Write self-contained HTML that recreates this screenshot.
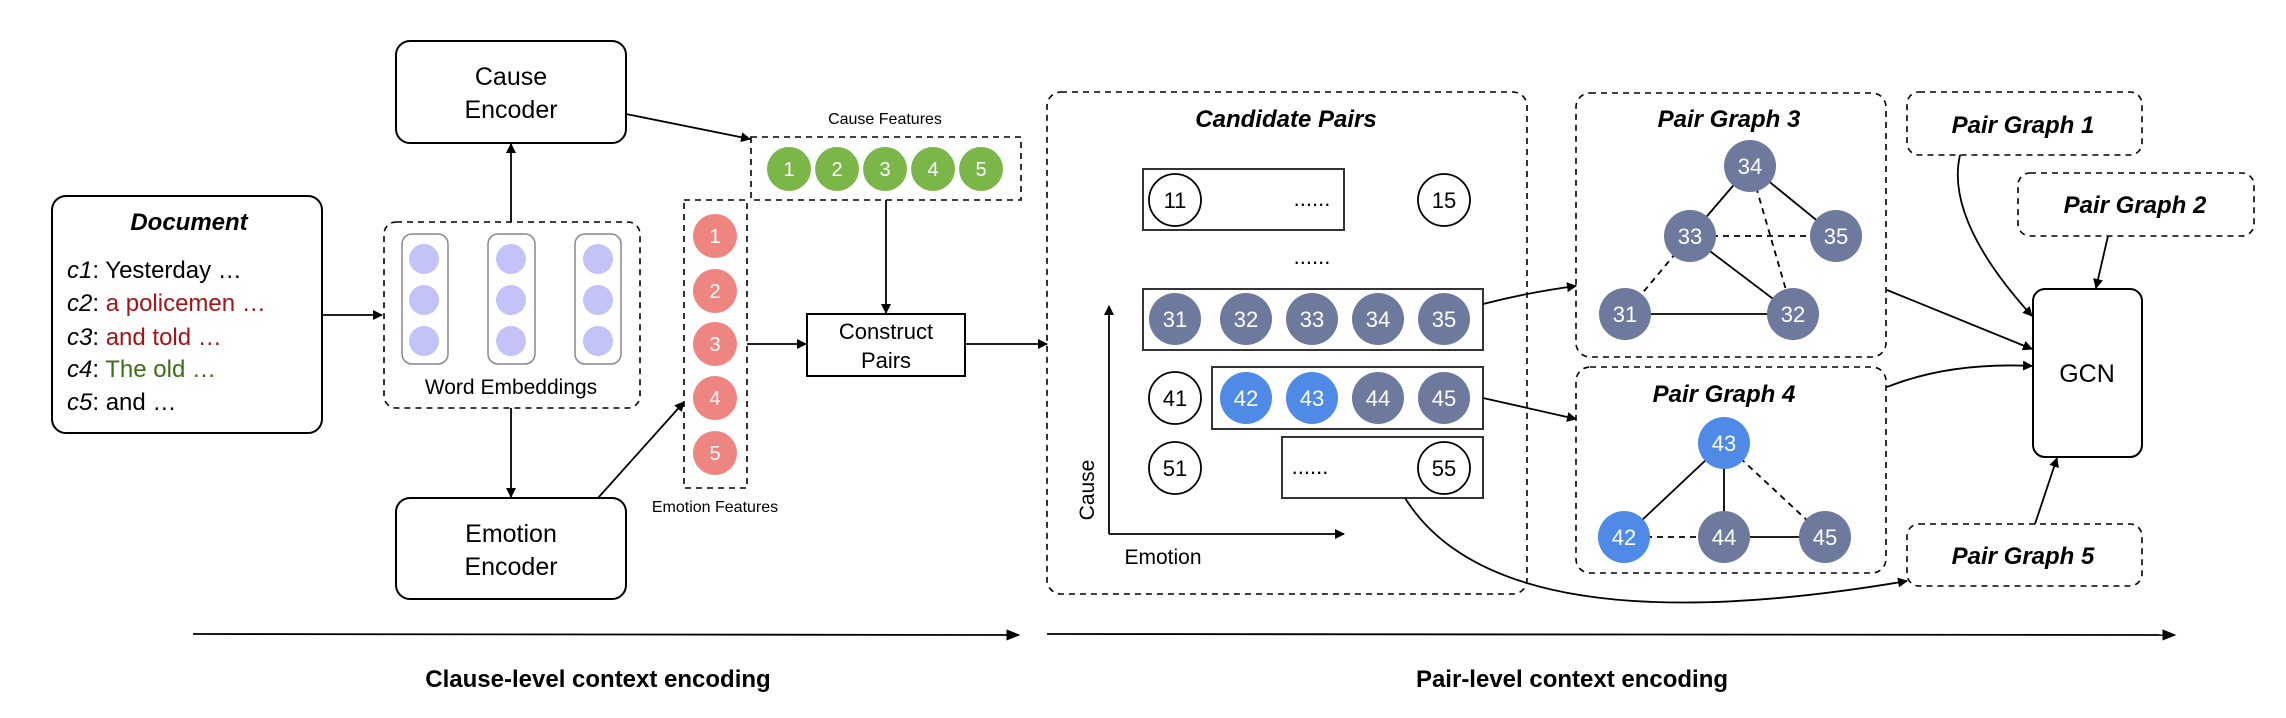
<!DOCTYPE html>
<html><head><meta charset="utf-8"><style>
html,body{margin:0;padding:0;background:#fff}
svg{display:block}
text{font-family:"Liberation Sans",sans-serif}
</style></head><body>
<svg width="2286" height="718" viewBox="0 0 2286 718" xmlns="http://www.w3.org/2000/svg">
<defs>
<marker id="a" viewBox="0 0 10 10" refX="9" refY="5" markerWidth="10" markerHeight="10" markerUnits="userSpaceOnUse" orient="auto"><path d="M0,0 L10,5 L0,10 z" fill="#000"/></marker>
<marker id="b" viewBox="0 0 10 10" refX="9" refY="5" markerWidth="14" markerHeight="14" markerUnits="userSpaceOnUse" orient="auto"><path d="M0,1 L10,5 L0,9 z" fill="#000"/></marker>
</defs>
<g fill="none" stroke="#000" stroke-width="2">
<!-- boxes -->
<rect x="52" y="196" width="270" height="237" rx="14"/>
<rect x="396" y="41" width="230" height="102" rx="14"/>
<rect x="396" y="498" width="230" height="101" rx="14"/>
<rect x="384" y="222" width="256" height="186" rx="12" stroke-dasharray="6,5" stroke-width="1.6"/>
<rect x="684" y="200" width="63" height="288" stroke-dasharray="6,5" stroke-width="1.6"/>
<rect x="751" y="137" width="270" height="63" stroke-dasharray="6,5" stroke-width="1.6"/>
<rect x="807" y="314" width="158" height="62"/>
<rect x="1047" y="92" width="480" height="502" rx="14" stroke-dasharray="6,5" stroke-width="1.6"/>
<rect x="1576" y="93" width="310" height="264" rx="14" stroke-dasharray="6,5" stroke-width="1.6"/>
<rect x="1576" y="367" width="310" height="206" rx="14" stroke-dasharray="6,5" stroke-width="1.6"/>
<rect x="1907" y="92" width="235" height="63" rx="12" stroke-dasharray="6,5" stroke-width="1.6"/>
<rect x="2018" y="173" width="236" height="63" rx="12" stroke-dasharray="6,5" stroke-width="1.6"/>
<rect x="1907" y="524" width="235" height="62" rx="12" stroke-dasharray="6,5" stroke-width="1.6"/>
<rect x="2033" y="289" width="109" height="168" rx="12"/>
<rect x="1143" y="169" width="201" height="61" stroke="#333"/>
<rect x="1143" y="289" width="340" height="61" stroke="#333"/>
<rect x="1212" y="367" width="271" height="62" stroke="#333"/>
<rect x="1282" y="437" width="201" height="61" stroke="#333"/>
<!-- word embedding columns -->
<rect x="402" y="234" width="46" height="130" rx="10" stroke="#888" stroke-width="1.5"/>
<rect x="488" y="234" width="47" height="130" rx="10" stroke="#888" stroke-width="1.5"/>
<rect x="575" y="234" width="46" height="130" rx="10" stroke="#888" stroke-width="1.5"/>
</g>
<g fill="#c3c3f7">
<circle cx="424" cy="259" r="15"/><circle cx="424" cy="300" r="15"/><circle cx="424" cy="341" r="15"/>
<circle cx="511" cy="259" r="15"/><circle cx="511" cy="300" r="15"/><circle cx="511" cy="341" r="15"/>
<circle cx="598" cy="259" r="15"/><circle cx="598" cy="300" r="15"/><circle cx="598" cy="341" r="15"/>
</g>
<!-- arrows -->
<g fill="none" stroke="#000" stroke-width="1.8">
<line x1="323" y1="315" x2="382" y2="315" marker-end="url(#a)"/>
<line x1="511" y1="222" x2="511" y2="144" marker-end="url(#a)"/>
<line x1="511" y1="408" x2="511" y2="497" marker-end="url(#a)"/>
<line x1="626" y1="114" x2="750" y2="139" marker-end="url(#a)"/>
<path d="M598,498 Q650,440 684,402" marker-end="url(#a)"/>
<line x1="886" y1="200" x2="886" y2="313" marker-end="url(#a)"/>
<line x1="747" y1="344" x2="806" y2="344" marker-end="url(#a)"/>
<line x1="965" y1="344" x2="1047" y2="344" marker-end="url(#a)"/>
<line x1="193" y1="634" x2="1019" y2="635" marker-end="url(#b)"/>
<line x1="1047" y1="634" x2="2175" y2="635" marker-end="url(#b)"/>
<path d="M1109,534 L1109,306" marker-end="url(#a)"/>
<path d="M1109,534 L1344,534" marker-end="url(#a)"/>
<path d="M1483,304 Q1530,292 1576,286" marker-end="url(#a)"/>
<path d="M1483,398 L1576,419" marker-end="url(#a)"/>
<path d="M1887,290 L2032,349" marker-end="url(#a)"/>
<path d="M1887,387 Q1950,362 2032,366" marker-end="url(#a)"/>
<path d="M1960,155 Q1945,220 2032,316" marker-end="url(#a)"/>
<path d="M2108,236 L2096,288" marker-end="url(#a)"/>
<path d="M2035,524 L2057,458" marker-end="url(#a)"/>
<path d="M1405,498 Q1500,650 1907,581" marker-end="url(#a)"/>
</g>
<!-- graph edges -->
<g stroke="#000" stroke-width="1.8">
<line x1="1750" y1="166" x2="1690" y2="236"/>
<line x1="1750" y1="166" x2="1836" y2="236"/>
<line x1="1750" y1="166" x2="1793" y2="314" stroke-dasharray="6,5"/>
<line x1="1690" y1="236" x2="1836" y2="236" stroke-dasharray="6,5"/>
<line x1="1690" y1="236" x2="1793" y2="314"/>
<line x1="1690" y1="236" x2="1625" y2="314" stroke-dasharray="6,5"/>
<line x1="1625" y1="314" x2="1793" y2="314"/>
<line x1="1724" y1="443" x2="1624" y2="537"/>
<line x1="1724" y1="443" x2="1724" y2="537"/>
<line x1="1724" y1="443" x2="1825" y2="537" stroke-dasharray="6,5"/>
<line x1="1624" y1="537" x2="1724" y2="537" stroke-dasharray="6,5"/>
<line x1="1724" y1="537" x2="1825" y2="537"/>
</g>
<!-- feature circles -->
<g fill="#7ab648"><circle cx="789" cy="169" r="22"/><circle cx="837" cy="169" r="22"/><circle cx="885" cy="169" r="22"/><circle cx="933" cy="169" r="22"/><circle cx="981" cy="169" r="22"/></g>
<g fill="#ee8580"><circle cx="715" cy="236" r="22"/><circle cx="715" cy="291" r="22"/><circle cx="715" cy="344" r="22"/><circle cx="715" cy="398" r="22"/><circle cx="715" cy="453" r="22"/></g>
<g font-size="20" fill="#fff" text-anchor="middle">
<text x="789" y="176">1</text><text x="837" y="176">2</text><text x="885" y="176">3</text><text x="933" y="176">4</text><text x="981" y="176">5</text>
<text x="715" y="243">1</text><text x="715" y="298">2</text><text x="715" y="351">3</text><text x="715" y="405">4</text><text x="715" y="460">5</text>
</g>
<!-- pair circles -->
<g fill="#fff" stroke="#000" stroke-width="1.8">
<circle cx="1175" cy="200" r="26"/><circle cx="1444" cy="200" r="26"/>
<circle cx="1175" cy="398" r="26"/><circle cx="1175" cy="468" r="26"/><circle cx="1444" cy="468" r="26"/>
</g>
<g fill="#6d7a9e">
<circle cx="1175" cy="319" r="26"/><circle cx="1246" cy="319" r="26"/><circle cx="1312" cy="319" r="26"/><circle cx="1378" cy="319" r="26"/><circle cx="1444" cy="319" r="26"/>
<circle cx="1378" cy="398" r="26"/><circle cx="1444" cy="398" r="26"/>
<circle cx="1750" cy="166" r="26"/><circle cx="1690" cy="236" r="26"/><circle cx="1836" cy="236" r="26"/><circle cx="1625" cy="314" r="26"/><circle cx="1793" cy="314" r="26"/>
<circle cx="1724" cy="537" r="26"/><circle cx="1825" cy="537" r="26"/>
</g>
<g fill="#4f8ae6">
<circle cx="1246" cy="398" r="26"/><circle cx="1312" cy="398" r="26"/>
<circle cx="1724" cy="443" r="26"/><circle cx="1624" cy="537" r="26"/>
</g>
<g font-size="22" text-anchor="middle" fill="#000">
<text x="1175" y="208">11</text><text x="1444" y="208">15</text>
<text x="1175" y="406">41</text><text x="1175" y="476">51</text><text x="1444" y="476">55</text>
<text x="1312" y="206">......</text><text x="1312" y="264">......</text><text x="1310" y="474">......</text>
</g>
<g font-size="22" text-anchor="middle" fill="#fff">
<text x="1175" y="327">31</text><text x="1246" y="327">32</text><text x="1312" y="327">33</text><text x="1378" y="327">34</text><text x="1444" y="327">35</text>
<text x="1246" y="406">42</text><text x="1312" y="406">43</text><text x="1378" y="406">44</text><text x="1444" y="406">45</text>
<text x="1750" y="174">34</text><text x="1690" y="244">33</text><text x="1836" y="244">35</text><text x="1625" y="322">31</text><text x="1793" y="322">32</text>
<text x="1724" y="451">43</text><text x="1624" y="545">42</text><text x="1724" y="545">44</text><text x="1825" y="545">45</text>
</g>
<!-- labels -->
<g fill="#000" text-anchor="middle">
<text x="511" y="85" font-size="25">Cause</text><text x="511" y="118" font-size="25">Encoder</text>
<text x="511" y="542" font-size="25">Emotion</text><text x="511" y="575" font-size="25">Encoder</text>
<text x="886" y="339" font-size="22">Construct</text><text x="886" y="368" font-size="22">Pairs</text>
<text x="511" y="394" font-size="21">Word Embeddings</text>
<text x="885" y="124" font-size="16">Cause Features</text>
<text x="715" y="512" font-size="16">Emotion Features</text>
<text x="189" y="230" font-size="24" font-weight="bold" font-style="italic">Document</text>
<text x="1286" y="127" font-size="24" font-weight="bold" font-style="italic">Candidate Pairs</text>
<text x="1729" y="127" font-size="24" font-weight="bold" font-style="italic">Pair Graph 3</text>
<text x="1724" y="402" font-size="24" font-weight="bold" font-style="italic">Pair Graph 4</text>
<text x="2023" y="133" font-size="24" font-weight="bold" font-style="italic">Pair Graph 1</text>
<text x="2135" y="213" font-size="24" font-weight="bold" font-style="italic">Pair Graph 2</text>
<text x="2023" y="564" font-size="24" font-weight="bold" font-style="italic">Pair Graph 5</text>
<text x="2087" y="382" font-size="25">GCN</text>
<text x="1163" y="564" font-size="21">Emotion</text>
<text transform="translate(1094,490) rotate(-90)" font-size="21">Cause</text>
<text x="598" y="687" font-size="24" font-weight="bold">Clause-level context encoding</text>
<text x="1572" y="687" font-size="24" font-weight="bold">Pair-level context encoding</text>
</g>
<g font-size="24" fill="#000">
<text x="67" y="278"><tspan font-style="italic">c1</tspan>: Yesterday …</text>
<text x="67" y="311"><tspan font-style="italic">c2</tspan>: <tspan fill="#a31515">a policemen …</tspan></text>
<text x="67" y="345"><tspan font-style="italic">c3</tspan>: <tspan fill="#a31515">and told …</tspan></text>
<text x="67" y="377"><tspan font-style="italic">c4</tspan>: <tspan fill="#3b6e16">The old …</tspan></text>
<text x="67" y="410"><tspan font-style="italic">c5</tspan>: and …</text>
</g>
</svg>
</body></html>
